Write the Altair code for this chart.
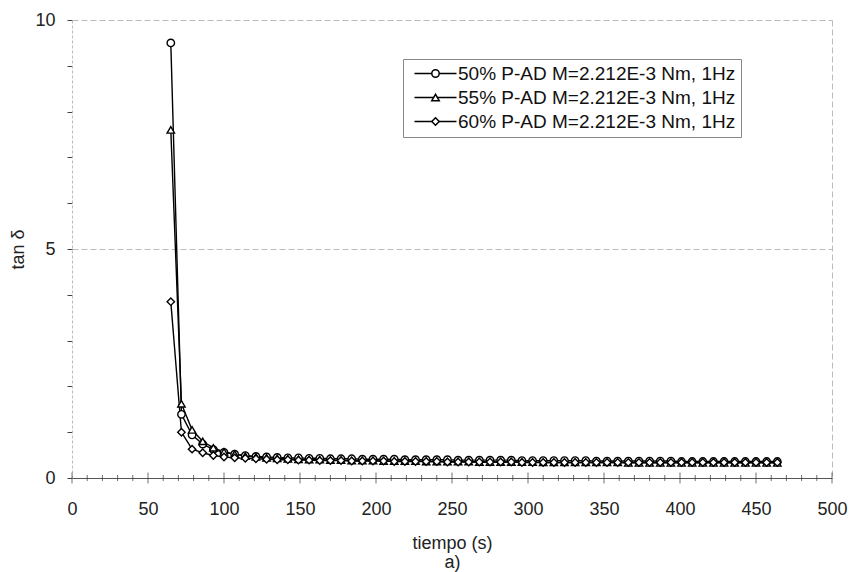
import altair as alt
import pandas as pd

# ---------------- data ----------------
tiempo = [65, 72, 79, 86, 93, 100, 107, 114, 121, 128,
          135, 142, 149, 156, 163, 170, 177, 184, 191, 198,
          205, 212, 219, 226, 233, 240, 247, 254, 261, 268,
          275, 282, 289, 296, 303, 310, 317, 324, 331, 338,
          345, 352, 359, 366, 373, 380, 387, 394, 401, 408,
          415, 422, 429, 436, 443, 450, 457, 464]

tan_50 = [9.50, 1.39, 0.94, 0.74, 0.62, 0.56, 0.52, 0.49, 0.47, 0.46,
          0.45, 0.44, 0.44, 0.43, 0.43, 0.42, 0.42, 0.42, 0.41, 0.41,
          0.41, 0.41, 0.40, 0.40, 0.40, 0.40, 0.40, 0.39, 0.39, 0.39,
          0.39, 0.39, 0.39, 0.38, 0.38, 0.38, 0.38, 0.38, 0.38, 0.38,
          0.37, 0.37, 0.37, 0.37, 0.37, 0.37, 0.37, 0.37, 0.36, 0.36,
          0.36, 0.36, 0.36, 0.36, 0.36, 0.36, 0.36, 0.36]

tan_55 = [7.60, 1.62, 1.05, 0.80, 0.66, 0.57, 0.52, 0.48, 0.46, 0.44,
          0.43, 0.42, 0.41, 0.40, 0.40, 0.39, 0.39, 0.38, 0.38, 0.38,
          0.37, 0.37, 0.37, 0.37, 0.36, 0.36, 0.36, 0.36, 0.36, 0.35,
          0.35, 0.35, 0.35, 0.35, 0.35, 0.34, 0.34, 0.34, 0.34, 0.34,
          0.34, 0.34, 0.34, 0.33, 0.33, 0.33, 0.33, 0.33, 0.33, 0.33,
          0.33, 0.33, 0.33, 0.33, 0.33, 0.33, 0.33, 0.33]

tan_60 = [3.85, 1.00, 0.63, 0.55, 0.49, 0.46, 0.44, 0.43, 0.42, 0.41,
          0.40, 0.40, 0.39, 0.39, 0.38, 0.38, 0.38, 0.37, 0.37, 0.37,
          0.37, 0.36, 0.36, 0.36, 0.36, 0.36, 0.35, 0.35, 0.35, 0.35,
          0.35, 0.35, 0.35, 0.34, 0.34, 0.34, 0.34, 0.34, 0.34, 0.34,
          0.34, 0.34, 0.34, 0.34, 0.34, 0.34, 0.34, 0.34, 0.34, 0.34,
          0.34, 0.34, 0.34, 0.34, 0.34, 0.34, 0.34, 0.34]

series = ["50% P-AD M=2.212E-3 Nm, 1Hz",
          "55% P-AD M=2.212E-3 Nm, 1Hz",
          "60% P-AD M=2.212E-3 Nm, 1Hz"]

x_minor_ticks = [10, 20, 30, 40, 60, 70, 80, 90, 110, 120, 130, 140,
                 160, 170, 180, 190, 210, 220, 230, 240, 260, 270,
                 280, 290, 310, 320, 330, 340, 360, 370, 380, 390,
                 410, 420, 430, 440, 460, 470, 480, 490]
x_label_values = [0, 50, 100, 150, 200, 250, 300, 350, 400, 450, 500]
y_tick_values = [0, 1, 2, 3, 4, 5, 6, 7, 8, 9, 10]

# ---------------- tables ----------------
rows = []
for s, vals in zip(series, [tan_50, tan_55, tan_60]):
    for t, v in zip(tiempo, vals):
        rows.append({"t": t, "tan": v, "serie": s, "linea": "L " + s})
df = pd.DataFrame(rows)
line_keys = ["L " + s for s in series]

minor_df = pd.DataFrame({"v": x_minor_ticks, "y0": [0] * len(x_minor_ticks)})
major_df = pd.DataFrame({"v": x_label_values, "y0": [0] * len(x_label_values)})

FONT = "Liberation Sans"

x_scale = alt.Scale(domain=[0, 500], nice=False, zero=False)
y_scale = alt.Scale(domain=[0, 10], nice=False, zero=True)

x_axis = alt.Axis(
    values=x_label_values, ticks=False, labelPadding=22, labelFlush=False,
    labelOverlap=False, labelFontSize=18, labelColor="#222", labelFont=FONT,
    title=["tiempo (s)", "a)"], titleFontSize=18, titleFont=FONT, titleColor="#222",
    titleFontWeight="normal", titleBaseline="top", titleY=56, titleLineHeight=19,
    domainColor="#555", domainWidth=1,
    grid=True, gridColor="#bbb", gridDash=[6, 3],
    gridOpacity={"condition": {"test": "datum.value == 500", "value": 1}, "value": 0},
)
y_axis = alt.Axis(
    values=y_tick_values, labelExpr="datum.value % 5 == 0 ? datum.label : ''",
    tickSize=5, tickColor="#444", labelPadding=12, labelFlush=False, labelOverlap=False,
    labelFontSize=18, labelColor="#222", labelFont=FONT,
    title="tan δ", titleFontSize=18, titleFont=FONT, titleColor="#222",
    titleFontWeight="normal", titleAngle=270, titleX=-45, titleY=229,
    titleAlign="center", titleBaseline="bottom",
    domainColor="#bbb", domainDash=[3, 2],
    grid=True, gridColor="#bbb", gridDash=[6, 3],
    gridOpacity={"condition": {"test": "datum.value == 5 || datum.value == 10", "value": 1}, "value": 0},
)

# lines: their (label-less) legend draws the line segment behind each legend marker
lines = alt.Chart(df).mark_line(color="black", strokeWidth=1.4).encode(
    x=alt.X("t:Q", scale=x_scale, axis=x_axis),
    y=alt.Y("tan:Q", scale=y_scale, axis=y_axis),
    detail="serie:N",
    order="t:Q",
    strokeDash=alt.StrokeDash(
        "linea:N",
        scale=alt.Scale(domain=line_keys, range=[[1, 0], [1, 0], [1, 0]]),
        legend=alt.Legend(
            title=None, orient="none", legendX=331, legendY=39,
            padding=5, symbolType="stroke", symbolSize=1764, symbolOffset=5.5,
            symbolStrokeWidth=1.4, symbolStrokeColor="black", clipHeight=19,
            labelFontSize=19, labelFont=FONT, labelOpacity=0,
            labelLimit=600, rowPadding=4),
    ),
)

points = alt.Chart(df).mark_point(
    filled=True, fill="white", stroke="black", strokeWidth=1.4, size=55, opacity=1
).encode(
    x=alt.X("t:Q", scale=x_scale, axis=x_axis),
    y=alt.Y("tan:Q", scale=y_scale, axis=y_axis),
    shape=alt.Shape(
        "serie:N",
        scale=alt.Scale(domain=series, range=["circle", "triangle-up", "diamond"]),
        legend=alt.Legend(
            title=None, orient="none", legendX=331, legendY=39,
            padding=5, strokeColor="#888",
            symbolSize=55, symbolOffset=18, labelOffset=13,
            labelFontSize=19, labelFont=FONT, labelColor="#111",
            labelLimit=600, rowPadding=4),
    ),
)

minor_ticks = alt.Chart(minor_df).mark_tick(
    orient="vertical", color="#333", thickness=1, size=6
).encode(
    x=alt.X("v:Q", scale=x_scale, axis=x_axis),
    y=alt.Y("y0:Q", scale=y_scale, axis=y_axis),
)
major_ticks = alt.Chart(major_df).mark_tick(
    orient="vertical", color="#333", thickness=1, size=11
).encode(
    x=alt.X("v:Q", scale=x_scale, axis=x_axis),
    y=alt.Y("y0:Q", scale=y_scale, axis=y_axis),
)

chart = alt.layer(lines, points, minor_ticks, major_ticks).properties(
    width=760, height=458,
    padding={"left": 72, "top": 20, "right": 21, "bottom": 94},
    autosize=alt.AutoSizeParams(type="none"),
    background="white",
).configure_view(stroke=None)

chart.save("out.html", embed_options={"renderer": "svg", "actions": False})
